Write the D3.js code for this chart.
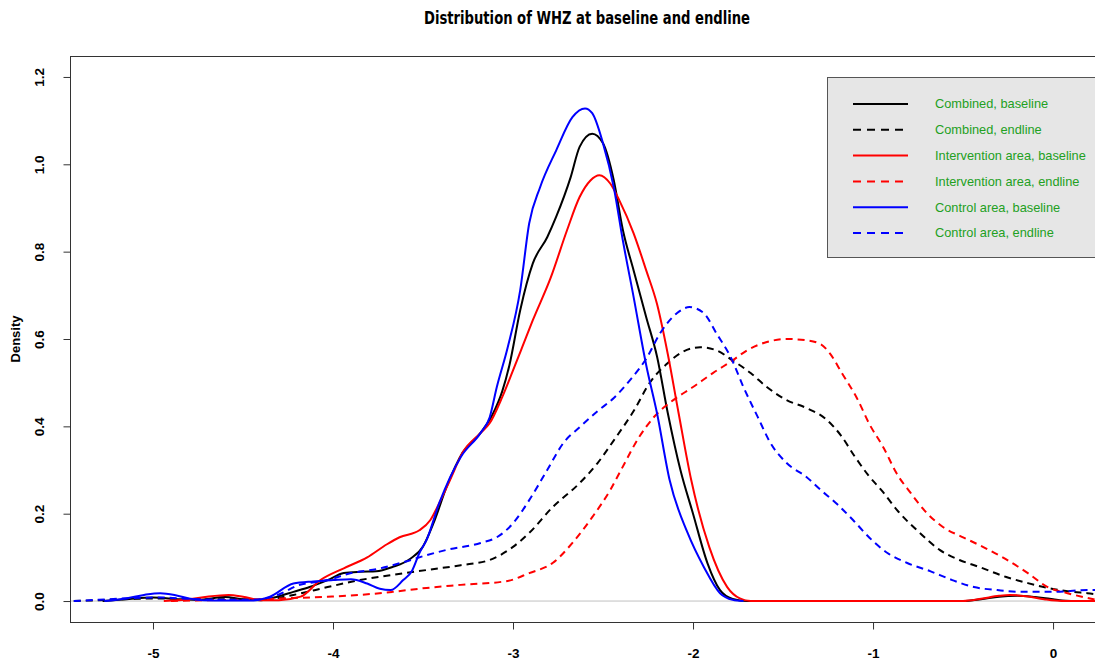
<!DOCTYPE html>
<meta charset="utf-8">
<script src="https://cdn.jsdelivr.net/npm/d3@7/dist/d3.min.js"></script>
<html>
<head>
	<title>Distribution of WHZ at baseline and endline</title>
	<style>
		body { margin: 0; background: #fff; }
		text { font-family: "Liberation Sans", Arial, sans-serif; }
		.title { font-family: "Liberation Sans Narrow", "DejaVu Sans Condensed", "Liberation Sans", Arial, sans-serif; font-weight: bold; }
		.tick text { font-weight: bold; font-size: 13.5px; }
		.ylab { font-weight: bold; font-size: 13px; }
		.legend text { font-size: 12.8px; fill: #22a022; }
	</style>
</head>
<body>
<div id="chart"></div>
<script>
	// density curves: x = WHZ, d = density
	var combBaseX = [-5.28, -5.15, -5.0, -4.85, -4.75, -4.6, -4.5, -4.4, -4.31, -4.22, -4.13, -4.03, -3.94, -3.85, -3.76, -3.67, -3.57, -3.5, -3.44, -3.37, -3.28, -3.18, -3.11, -3.06, -3.02, -2.96, -2.89, -2.81, -2.76, -2.68, -2.63, -2.56, -2.5, -2.44, -2.39, -2.33, -2.26, -2.2, -2.14, -2.07, -2.0, -1.92, -1.85, -1.78, -1.7, -0.5, -0.4, -0.3, -0.2, -0.1, 0.0, 0.05, 0.1];
	var combBaseD = [0, 0.004, 0.008, 0.004, 0.003, 0.009, 0.004, 0.002, 0.01, 0.021, 0.032, 0.048, 0.064, 0.067, 0.068, 0.078, 0.097, 0.125, 0.18, 0.26, 0.34, 0.385, 0.43, 0.48, 0.54, 0.666, 0.773, 0.833, 0.88, 0.97, 1.04, 1.07, 1.048, 0.963, 0.85, 0.757, 0.65, 0.56, 0.43, 0.30, 0.2, 0.087, 0.025, 0.005, 0, 0, 0.004, 0.01, 0.012, 0.009, 0.004, 0.001, 0];

	var combEndX = [-5.44, -5.3, -5.1, -4.95, -4.8, -4.6, -4.4, -4.22, -4.03, -3.85, -3.67, -3.48, -3.29, -3.13, -3.0, -2.91, -2.78, -2.63, -2.53, -2.44, -2.33, -2.24, -2.14, -2.06, -1.96, -1.87, -1.78, -1.68, -1.59, -1.48, -1.37, -1.26, -1.18, -1.1, -1.03, -0.95, -0.86, -0.74, -0.63, -0.52, -0.41, -0.26, -0.14, -0.03, 0.11, 0.19, 0.3];
	var combEndD = [0, 0.002, 0.005, 0.006, 0.004, 0.004, 0.003, 0.014, 0.032, 0.048, 0.06, 0.071, 0.082, 0.094, 0.124, 0.156, 0.215, 0.27, 0.316, 0.368, 0.435, 0.5, 0.545, 0.57, 0.581, 0.574, 0.551, 0.522, 0.49, 0.46, 0.442, 0.416, 0.38, 0.33, 0.29, 0.252, 0.205, 0.156, 0.117, 0.094, 0.078, 0.055, 0.041, 0.03, 0.021, 0.018, 0.012];

	var intBaseX = [-4.94, -4.8, -4.7, -4.58, -4.5, -4.4, -4.3, -4.18, -4.07, -3.94, -3.81, -3.7, -3.63, -3.52, -3.46, -3.41, -3.35, -3.28, -3.18, -3.13, -3.06, -3.0, -2.95, -2.89, -2.79, -2.7, -2.63, -2.57, -2.52, -2.46, -2.41, -2.33, -2.26, -2.2, -2.14, -2.08, -2.01, -1.91, -1.81, -1.74, -1.68, -0.5, -0.4, -0.3, -0.24, -0.15, -0.05, 0.05, 0.3];
	var intBaseD = [0, 0.004, 0.01, 0.014, 0.01, 0.002, 0.002, 0.01, 0.048, 0.075, 0.1, 0.13, 0.146, 0.162, 0.185, 0.224, 0.277, 0.34, 0.385, 0.407, 0.467, 0.528, 0.58, 0.643, 0.741, 0.849, 0.925, 0.963, 0.975, 0.956, 0.918, 0.842, 0.757, 0.68, 0.565, 0.43, 0.277, 0.124, 0.032, 0.006, 0, 0, 0.005, 0.012, 0.014, 0.011, 0.004, 0, 0];

	var intEndX = [-4.9, -4.7, -4.5, -4.22, -4.03, -3.85, -3.67, -3.48, -3.29, -3.03, -2.91, -2.78, -2.67, -2.56, -2.46, -2.4, -2.3, -2.22, -2.11, -2.0, -1.89, -1.78, -1.7, -1.59, -1.48, -1.37, -1.29, -1.24, -1.17, -1.09, -1.02, -0.94, -0.87, -0.79, -0.7, -0.61, -0.5, -0.39, -0.28, -0.14, -0.03, 0.08, 0.17, 0.25];
	var intEndD = [0, 0.002, 0.003, 0.007, 0.01, 0.014, 0.021, 0.03, 0.037, 0.046, 0.064, 0.087, 0.133, 0.192, 0.254, 0.3, 0.375, 0.42, 0.46, 0.49, 0.522, 0.551, 0.574, 0.593, 0.6, 0.597, 0.588, 0.567, 0.52, 0.465, 0.405, 0.35, 0.293, 0.247, 0.201, 0.169, 0.146, 0.124, 0.1, 0.064, 0.032, 0.018, 0.009, 0.002];

	var ctlBaseX = [-5.27, -5.15, -5.05, -4.96, -4.88, -4.8, -4.72, -4.6, -4.45, -4.35, -4.22, -4.11, -4.0, -3.9, -3.81, -3.74, -3.68, -3.61, -3.56, -3.52, -3.48, -3.41, -3.29, -3.18, -3.13, -3.09, -3.03, -2.96, -2.91, -2.85, -2.76, -2.67, -2.6, -2.56, -2.5, -2.44, -2.39, -2.33, -2.26, -2.2, -2.13, -2.03, -1.94, -1.85, -1.78, -1.72];
	var ctlBaseD = [0, 0.006, 0.014, 0.018, 0.014, 0.006, 0.002, 0.001, 0.001, 0.01, 0.04, 0.045, 0.048, 0.05, 0.04, 0.028, 0.025, 0.048, 0.07, 0.11, 0.14, 0.224, 0.33, 0.385, 0.42, 0.49, 0.58, 0.712, 0.865, 0.947, 1.032, 1.108, 1.128, 1.117, 1.048, 0.947, 0.826, 0.696, 0.54, 0.43, 0.277, 0.156, 0.078, 0.018, 0.003, 0];

	var ctlEndX = [-5.44, -5.3, -5.1, -4.95, -4.8, -4.6, -4.45, -4.3, -4.2, -4.03, -3.9, -3.76, -3.6, -3.48, -3.37, -3.18, -3.09, -3.0, -2.91, -2.81, -2.72, -2.63, -2.53, -2.44, -2.35, -2.26, -2.18, -2.09, -2.02, -1.94, -1.87, -1.79, -1.72, -1.64, -1.57, -1.48, -1.37, -1.29, -1.2, -1.11, -1.02, -0.92, -0.81, -0.68, -0.56, -0.44, -0.31, -0.18, 0.0, 0.19, 0.3];
	var ctlEndD = [0, 0.003, 0.007, 0.008, 0.005, 0.003, 0.003, 0.015, 0.035, 0.048, 0.064, 0.073, 0.09, 0.105, 0.117, 0.133, 0.146, 0.178, 0.231, 0.3, 0.362, 0.398, 0.435, 0.465, 0.506, 0.555, 0.615, 0.659, 0.673, 0.659, 0.613, 0.558, 0.49, 0.421, 0.362, 0.316, 0.284, 0.254, 0.222, 0.185, 0.145, 0.11, 0.087, 0.068, 0.048, 0.032, 0.025, 0.021, 0.021, 0.025, 0.025];

	var legendLabels = ["Combined, baseline", "Combined, endline", "Intervention area, baseline", "Intervention area, endline", "Control area, baseline", "Control area, endline"];
	var xTicks = [-5, -4, -3, -2, -1, 0];
	var yTicks = [0, 0.2, 0.4, 0.6, 0.8, 1.0, 1.2];

	// series table built from the arrays above
	var series = [
		{name: legendLabels[0], xs: combBaseX, ds: combBaseD, color: "#000000", dashed: false},
		{name: legendLabels[1], xs: combEndX,  ds: combEndD,  color: "#000000", dashed: true},
		{name: legendLabels[2], xs: intBaseX,  ds: intBaseD,  color: "#ff0000", dashed: false},
		{name: legendLabels[3], xs: intEndX,   ds: intEndD,   color: "#ff0000", dashed: true},
		{name: legendLabels[4], xs: ctlBaseX,  ds: ctlBaseD,  color: "#0000ff", dashed: false},
		{name: legendLabels[5], xs: ctlEndX,   ds: ctlEndD,   color: "#0000ff", dashed: true}
	];

	var W = 1095, H = 660;
	var box = {left: 70, top: 56, right: 1104, bottom: 622};

	var svg = d3.select("#chart").append("svg")
		.attr("width", W)
		.attr("height", H);

	// R style 4% padding on both axes
	var x = d3.scaleLinear().domain([-5.461, 0.283]).range([box.left, box.right]);
	var y = d3.scaleLinear().domain([-0.048, 1.248]).range([box.bottom, box.top]);

	svg.append("clipPath").attr("id", "plotclip")
		.append("rect")
		.attr("x", box.left).attr("y", box.top)
		.attr("width", box.right - box.left).attr("height", box.bottom - box.top);

	// title
	svg.append("text")
		.attr("class", "title")
		.attr("x", 587).attr("y", 24)
		.attr("text-anchor", "middle")
		.attr("font-size", 17)
		.attr("textLength", 326)
		.attr("lengthAdjust", "spacingAndGlyphs")
		.text("Distribution of WHZ at baseline and endline");

	// grey zero line
	svg.append("line")
		.attr("x1", box.left).attr("x2", box.right)
		.attr("y1", y(0)).attr("y2", y(0))
		.attr("stroke", "#c0c0c0").attr("stroke-width", 1);

	// density lines
	var line = d3.line()
		.x(function(p) { return x(p[0]); })
		.y(function(p) { return y(p[1]); })
		.curve(d3.curveMonotoneX);

	var plot = svg.append("g").attr("clip-path", "url(#plotclip)");
	series.forEach(function(s) {
		var pts = s.xs.map(function(v, i) { return [v, s.ds[i]]; });
		plot.append("path")
			.datum(pts)
			.attr("d", line)
			.attr("fill", "none")
			.attr("stroke", s.color)
			.attr("stroke-width", 2)
			.attr("stroke-dasharray", s.dashed ? "7,5" : null);
	});

	// plot frame
	svg.append("rect")
		.attr("x", box.left + 0.5).attr("y", box.top + 0.5)
		.attr("width", box.right - box.left).attr("height", box.bottom - box.top)
		.attr("fill", "none")
		.attr("stroke", "#333")
		.attr("stroke-width", 1);

	// x axis
	var xAxis = svg.append("g")
		.attr("transform", "translate(0," + (box.bottom + 0.5) + ")")
		.call(d3.axisBottom(x).tickValues(xTicks).tickSize(7).tickPadding(19).tickFormat(d3.format("d")));
	xAxis.select(".domain").remove();
	xAxis.selectAll(".tick line").attr("stroke", "#333");
	xAxis.selectAll(".tick text").text(function(d) { return d < 0 ? "-" + Math.abs(d) : d; });

	// y axis, labels rotated like R
	var yAxis = svg.append("g")
		.attr("transform", "translate(" + (box.left + 0.5) + ",0)")
		.call(d3.axisLeft(y).tickValues(yTicks).tickSize(7).tickFormat(d3.format(".1f")));
	yAxis.select(".domain").remove();
	yAxis.selectAll(".tick line").attr("stroke", "#333");
	yAxis.selectAll(".tick text")
		.attr("x", 0).attr("dy", null)
		.attr("text-anchor", "middle")
		.attr("dominant-baseline", "middle")
		.attr("transform", "translate(-30,0) rotate(-90)");

	svg.append("text")
		.attr("class", "ylab")
		.attr("transform", "translate(17," + ((box.top + box.bottom) / 2) + ") rotate(-90)")
		.attr("text-anchor", "middle")
		.attr("dominant-baseline", "middle")
		.text("Density");

	// legend
	var legend = svg.append("g").attr("class", "legend");
	legend.append("rect")
		.attr("x", 827.5).attr("y", 77.5)
		.attr("width", 300).attr("height", 180)
		.attr("fill", "#e6e6e6")
		.attr("stroke", "#555").attr("stroke-width", 1);

	var rows = legend.selectAll(".row")
		.data(series)
		.enter().append("g")
		.attr("class", "row")
		.attr("transform", function(d, i) { return "translate(0," + (104 + i * 25.8) + ")"; });
	rows.append("line")
		.attr("x1", 853).attr("x2", 908)
		.attr("stroke", function(d) { return d.color; })
		.attr("stroke-width", 2)
		.attr("stroke-dasharray", function(d) { return d.dashed ? "8,6" : null; });
	rows.append("text")
		.attr("x", 935)
		.attr("y", 1)
		.attr("dominant-baseline", "middle")
		.text(function(d) { return d.name; });
</script>
</body>
</html>
